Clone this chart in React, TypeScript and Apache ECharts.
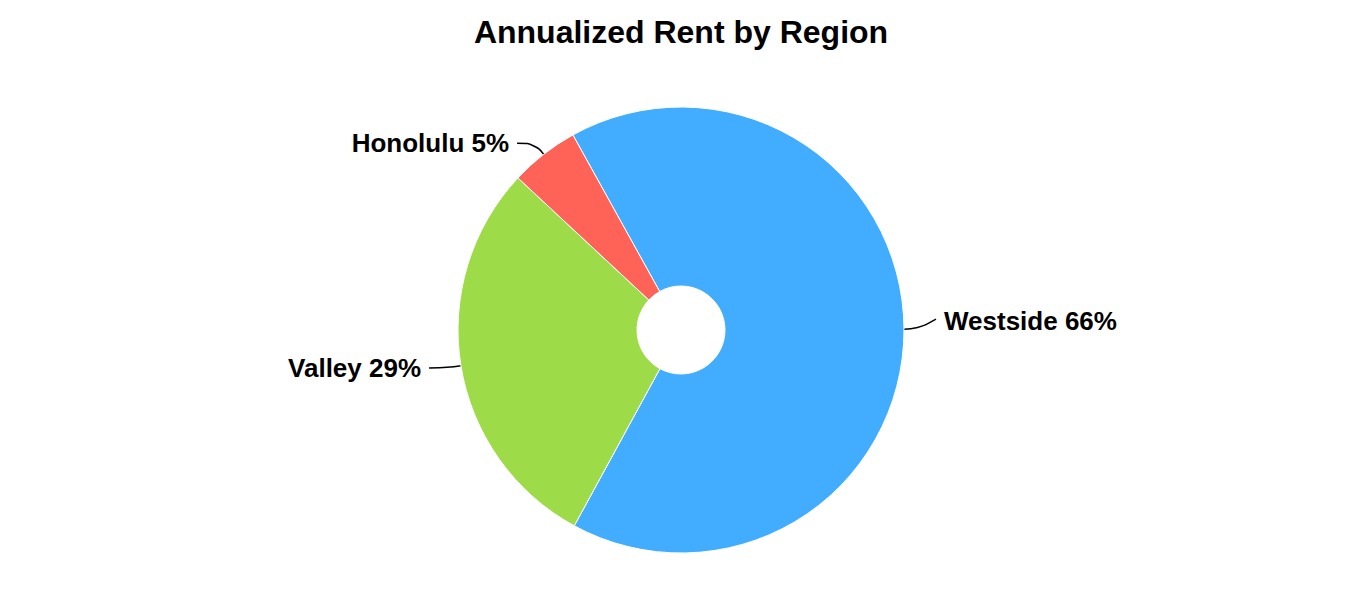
import React, { useEffect, useRef } from "react";
import * as echarts from "echarts";

const titleText = "Annualized Rent by Region";
const categories = ["Westside", "Valley", "Honolulu"];
const values = [66, 29, 5];
const colors = ["#42ADFF", "#9EDB48", "#FF6357"];

export default function App() {
  const ref = useRef<HTMLDivElement>(null);
  useEffect(() => {
    if (!ref.current) return;
    const chart = echarts.init(ref.current, undefined, { renderer: "svg" });
    chart.setOption({
      animation: false,
      backgroundColor: "#ffffff",
      title: {
        text: titleText,
        left: "center",
        top: 11,
        textStyle: {
          fontFamily: "Arial, 'Liberation Sans', sans-serif",
          fontSize: 32,
          fontWeight: "bold",
          color: "#000",
        },
      },
      series: [
        {
          type: "pie",
          center: ["50%", 330],
          radius: [44, 223],
          startAngle: 119,
          clockwise: true,
          data: categories.map((c, i) => ({
            name: c,
            value: values[i],
            itemStyle: { color: colors[i] },
          })),
          itemStyle: { borderColor: "#fff", borderWidth: 1 },
          label: {
            show: true,
            formatter: "{b} {d}%",
            fontFamily: "Arial, 'Liberation Sans', sans-serif",
            fontSize: 26,
            fontWeight: "bold",
            color: "#000",
            distanceToLabelLine: 8,
          },
          labelLine: {
            show: true,
            length: 14,
            length2: 18,
            smooth: 0.5,
            lineStyle: { color: "#000", width: 1.5 },
          },
          labelLayout: (p: any) => {
            if (p.dataIndex !== 0 || !p.labelLinePoints) return {};
            const pts = p.labelLinePoints;
            return {
              dy: -8,
              labelLinePoints: [
                [pts[0][0], pts[0][1]],
                [pts[1][0], pts[1][1]],
                [pts[2][0], pts[2][1] - 10],
              ],
            };
          },
          emphasis: { disabled: true },
        },
      ],
    });
    return () => chart.dispose();
  }, []);
  return (
    <div
      ref={ref}
      style={{ position: "fixed", left: 0, top: 0, width: 1362, height: 594 }}
    />
  );
}
